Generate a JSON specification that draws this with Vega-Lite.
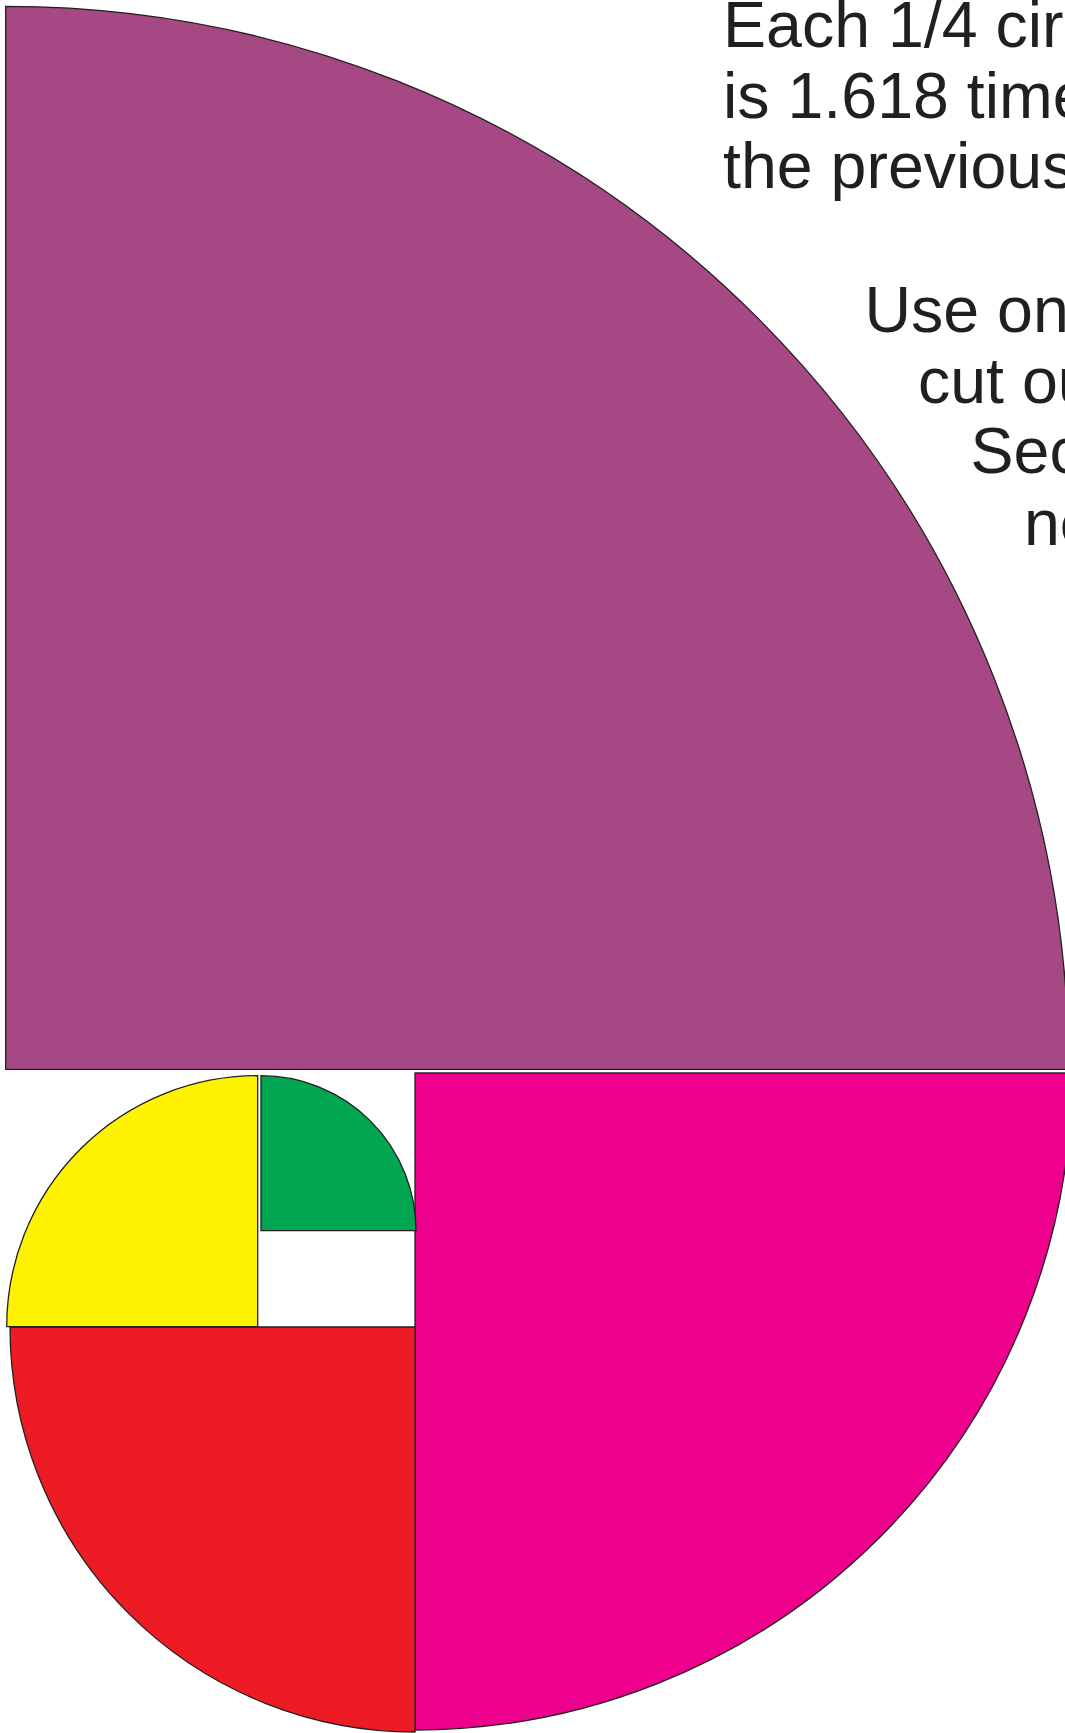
{
  "$schema": "https://vega.github.io/schema/vega-lite/v6.json",
  "width": 1065,
  "height": 1733,
  "autosize": "none",
  "padding": 0,
  "background": "white",
  "config": {"view": {"stroke": null}},
  "datasets": {
    "pieces": [
      {"piece": "purple", "cx": 5.7, "cy": 1069.3, "r": 1063, "a0": 0, "a1": 90},
      {"piece": "magenta", "cx": 415, "cy": 1073, "r": 657, "a0": 90, "a1": 180},
      {"piece": "red", "cx": 415, "cy": 1327, "r": 405, "a0": 180, "a1": 270},
      {"piece": "yellow", "cx": 257.7, "cy": 1326.7, "r": 251, "a0": 270, "a1": 360},
      {"piece": "green", "cx": 261, "cy": 1230.7, "r": 155, "a0": 0, "a1": 90}
    ],
    "labels": [
      {"x": 723, "y": 47, "line": "Each 1/4 circle"},
      {"x": 723, "y": 118, "line": "is 1.618 times"},
      {"x": 723, "y": 188, "line": "the previous one."},
      {"x": 864.5, "y": 332, "line": "Use one to"},
      {"x": 918, "y": 403, "line": "cut out the"},
      {"x": 970.5, "y": 473, "line": "Second,"},
      {"x": 1024, "y": 545, "line": "next."}
    ]
  },
  "layer": [
    {
      "data": {"name": "pieces"},
      "mark": {"type": "arc", "stroke": "#231f20", "strokeWidth": 1.3, "opacity": 1},
      "encoding": {
        "x": {"field": "cx", "type": "quantitative", "axis": null,
              "scale": {"domain": [0, 1065], "range": [0, 1065], "nice": false, "zero": false}},
        "y": {"field": "cy", "type": "quantitative", "axis": null,
              "scale": {"domain": [0, 1733], "range": [0, 1733], "nice": false, "zero": false}},
        "theta": {"field": "a0", "type": "quantitative", "stack": null,
                  "scale": {"type": "linear", "domain": [0, 360], "range": [0, 6.283185307179586], "nice": false, "zero": false}},
        "theta2": {"field": "a1"},
        "radius": {"field": "r", "type": "quantitative",
                   "scale": {"type": "linear", "domain": [0, 1065], "range": [0, 1065], "nice": false, "zero": true}},
        "color": {"field": "piece", "type": "nominal", "legend": null,
                  "scale": {"domain": ["purple", "magenta", "red", "yellow", "green"],
                            "range": ["#a54884", "#ec008c", "#ed1c24", "#fff200", "#00a651"]}}
      }
    },
    {
      "data": {"name": "labels"},
      "mark": {"type": "text", "align": "left", "baseline": "alphabetic", "font": "Liberation Sans", "fontSize": 64.5, "color": "#231f20"},
      "encoding": {
        "x": {"field": "x", "type": "quantitative", "axis": null,
              "scale": {"domain": [0, 1065], "range": [0, 1065], "nice": false, "zero": false}},
        "y": {"field": "y", "type": "quantitative", "axis": null,
              "scale": {"domain": [0, 1733], "range": [0, 1733], "nice": false, "zero": false}},
        "text": {"field": "line", "type": "nominal"}
      }
    }
  ]
}
